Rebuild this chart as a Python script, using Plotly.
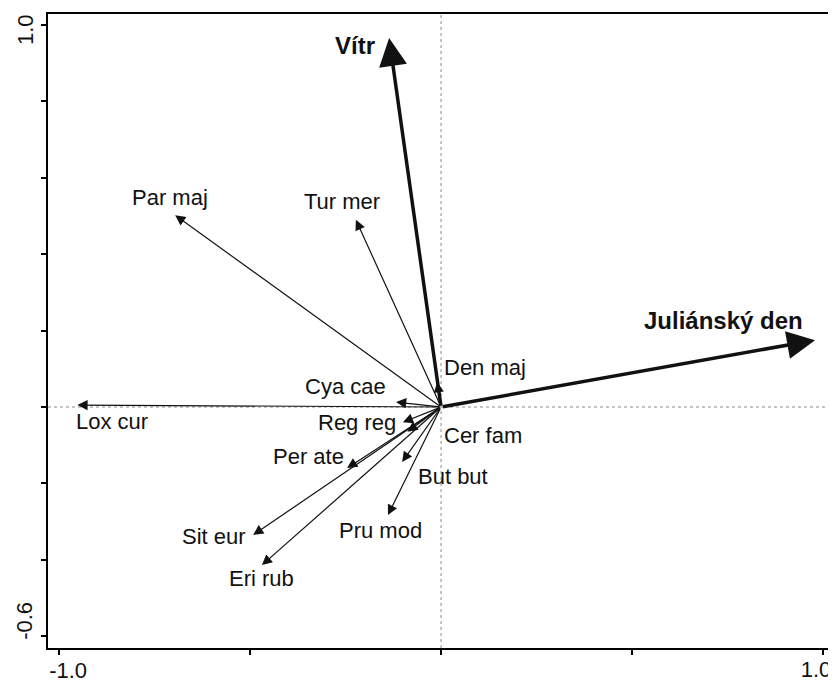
import plotly.graph_objects as go

# ---- data ----
species = ["Par maj", "Tur mer", "Den maj", "Cya cae", "Lox cur", "Reg reg",
           "Cer fam", "Per ate", "But but", "Pru mod", "Sit eur", "Eri rub"]
species_x = [-0.696, -0.223, -0.010, -0.118, -0.952, -0.100,
             -0.088, -0.246, -0.102, -0.139, -0.492, -0.469]
species_y = [0.502, 0.490, 0.065, 0.013, 0.005, -0.040,
             -0.065, -0.160, -0.144, -0.283, -0.335, -0.414]

env_vars = ["Vítr", "Juliánský den"]
env_x = [-0.136, 0.979]
env_y = [0.966, 0.175]

x_tickvals = [-1.0, -0.5, 0.0, 0.5, 1.0]
x_ticktext = ["-1.0", "", "", "", ""]
x2_tickvals = [1.0]
x2_ticktext = ["1.0"]
y_tickvals = [1.0, 0.8, 0.6, 0.4, 0.2, 0.0, -0.2, -0.4, -0.6]
y_ticktext = ["", "", "", "", "", "", "", "", "-0.6"]
y2_tickvals = [1.0]
y2_ticktext = ["1.0"]

XR = [-1.029, 1.026]
YR = [-0.631, 1.029]

# ---- label offsets in pixels (styling) ----
species_label_shift = {
    "Par maj": (-5, 18), "Tur mer": (-14, 18), "Den maj": (48, 15),
    "Cya cae": (-51, 16), "Lox cur": (35, -16), "Reg reg": (-46, 0),
    "Cer fam": (76, -4), "Per ate": (-39, 12), "But but": (51, -14),
    "Pru mod": (-7, -15), "Sit eur": (-39, -2), "Eri rub": (0, -13),
}
env_label_shift = {"Vítr": (-34, -7), "Juliánský den": (-92, 20)}

FONT = "Liberation Sans, Arial, sans-serif"
TXT = "#111111"

fig = go.Figure()
fig.add_trace(go.Scatter(x=species_x + env_x, y=species_y + env_y, mode="markers",
                         marker=dict(opacity=0), hoverinfo="skip", showlegend=False))
fig.add_trace(go.Scatter(x=env_x, y=env_y, mode="markers", xaxis="x2", yaxis="y2",
                         marker=dict(opacity=0), hoverinfo="skip", showlegend=False))

annotations = []
for name, x, y in zip(species, species_x, species_y):
    annotations.append(dict(x=x, y=y, ax=0, ay=0, xref="x", yref="y", axref="x", ayref="y",
                            text="", showarrow=True, arrowhead=2, arrowsize=1.7,
                            arrowwidth=1.2, arrowcolor=TXT))
    dx, dy = species_label_shift[name]
    annotations.append(dict(x=x, y=y, xref="x", yref="y", text=name, showarrow=False,
                            xshift=dx, yshift=dy, font=dict(family=FONT, size=22, color=TXT)))

for name, x, y in zip(env_vars, env_x, env_y):
    annotations.append(dict(x=x, y=y, ax=0, ay=0, xref="x", yref="y", axref="x", ayref="y",
                            text="", showarrow=True, arrowhead=2, arrowsize=1.6,
                            arrowwidth=3.5, arrowcolor=TXT))
    dx, dy = env_label_shift[name]
    annotations.append(dict(x=x, y=y, xref="x", yref="y", text="<b>" + name + "</b>",
                            showarrow=False, xshift=dx, yshift=dy,
                            font=dict(family=FONT, size=24, color=TXT)))

fig.add_hline(y=0, line=dict(color="#8a8a8a", width=1, dash="dot"), layer="below")
fig.add_vline(x=0, line=dict(color="#8a8a8a", width=1, dash="dot"), layer="below")

tickfont = dict(family=FONT, size=22, color=TXT)
common = dict(showgrid=False, zeroline=False, automargin=False, ticklabeloverflow="allow")

# the page body has an 8px margin, so the figure is sized/offset to compensate
fig.update_layout(
    width=828, height=676,
    margin=dict(l=40, r=3, t=6, b=36),
    paper_bgcolor="white", plot_bgcolor="white",
    showlegend=False,
    annotations=annotations,
    xaxis=dict(range=XR, tickvals=x_tickvals, ticktext=x_ticktext,
               showline=True, linecolor="black", linewidth=2, mirror=True,
               ticks="outside", ticklen=5, tickcolor="black", tickwidth=1.5,
               tickfont=tickfont, ticklabelshift=9, ticklabelstandoff=-3, **common),
    xaxis2=dict(range=XR, overlaying="x", side="bottom", tickvals=x2_tickvals,
                ticktext=x2_ticktext, showline=False, ticks="outside", ticklen=5,
                tickcolor="rgba(0,0,0,0)", tickfont=tickfont, ticklabelshift=-7,
                ticklabelstandoff=-3, **common),
    yaxis=dict(range=YR, tickvals=y_tickvals, ticktext=y_ticktext,
               showline=True, linecolor="black", linewidth=2, mirror=True,
               ticks="outside", ticklen=5, tickcolor="black", tickwidth=1.5,
               tickangle=-90, tickfont=tickfont, ticklabelshift=-12, **common),
    yaxis2=dict(range=YR, overlaying="y", side="left", tickvals=y2_tickvals,
                ticktext=y2_ticktext, showline=False, ticks="outside", ticklen=5,
                tickcolor="rgba(0,0,0,0)", tickangle=-90, tickfont=tickfont,
                ticklabelshift=8, **common),
)

fig.write_html("out.html")
